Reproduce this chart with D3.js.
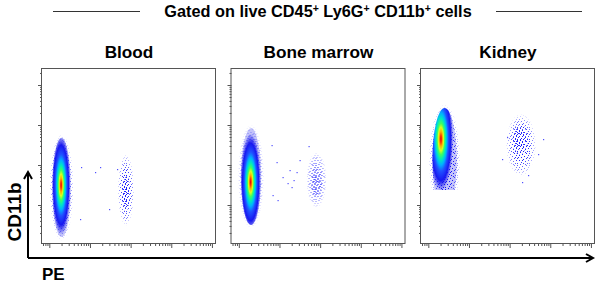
<!DOCTYPE html>
<html>
<head>
<meta charset="utf-8">
<script src="https://cdn.jsdelivr.net/npm/d3@7"></script>
<style>
  body { margin: 0; background: #fff; }
  svg { display: block; font-family: "Liberation Sans", Arial, sans-serif; }
</style>
</head>
<body>
<div id="chart"></div>
<script>
(function() {
  // ---- data (log10 fluorescence units) ----
  var tissues = ["Blood", "Bone marrow", "Kidney"];

  // PE- Ly6G+ CD11b+ neutrophils: centre, half spread, densest point
  var negX = [1.30, 1.30, 1.40];
  var negY = [2.44, 2.71, 3.125];
  var negHalfX = [0.23, 0.25, 0.30];
  var negHalfY = [1.24, 1.21, 1.30];
  var negPeakX = [1.29, 1.29, 1.31];
  var negPeakY = [2.50, 2.575, 3.65];
  var negGateY = [null, null, 2.375]; // lower gate edge (kidney)

  // PE+ events: centre, half spread, densest point
  var posX = [2.885, 2.91, 3.28];
  var posY = [2.375, 2.625, 3.50];
  var posHalfX = [0.20, 0.25, 0.37];
  var posHalfY = [0.90, 0.70, 0.78];
  var posPeakX = [2.885, 2.91, 3.25];
  var posPeakY = [2.30, 2.55, 3.65];

  // single scattered events [PE, CD11b]
  var strays = [
    [[1.78, 2.95], [2.12, 2.83], [2.25, 2.95], [1.75, 1.65], [2.47, 1.90], [2.66, 2.90]],
    [[1.80, 3.50], [1.93, 3.08], [2.07, 2.70], [2.25, 2.88], [2.30, 2.45], [2.42, 2.83],
     [2.49, 3.13], [1.83, 2.25], [1.95, 2.13], [2.71, 3.48], [2.34, 2.63], [2.20, 2.55]],
    [[2.81, 3.15], [2.93, 3.70], [3.82, 3.65], [3.70, 3.28], [3.45, 2.75], [3.30, 2.58]]
  ];

  var xMajor = [1, 2, 3, 4, 5];
  var yMajor = [2, 3, 4, 5];

  // ---- layout ----
  var W = 600, H = 285, panelW = 174, panelH = 175, top = 69;
  var jet = [
    [0, "#e80000", 1], [0.07, "#ff3c00", 1], [0.14, "#ffb000", 1], [0.22, "#d8ff20", 1],
    [0.30, "#40ff60", 1], [0.40, "#00e8c0", 1], [0.50, "#00b0ff", 1], [0.62, "#2050ff", 1],
    [0.80, "#1818f0", 1], [1, "#1010e8", 0.25]
  ];
  // irregular dot layout for the speckle texture (12px tile)
  var speckDots = [[0,0],[5,1],[9,0],[2,2],[7,3],[11,2],[4,4],[0,5],[9,5],[6,6],[2,7],
                   [11,7],[8,8],[4,9],[0,10],[6,10],[10,10],[3,11],[8,11],[1,4],[10,4],[5,7]];

  var svg = d3.select("#chart").append("svg").attr("width", W).attr("height", H);
  var defs = svg.append("defs");

  var x = d3.scaleLinear().domain([0.82, 5.1]).range([0, panelW]);
  var y = d3.scaleLinear().domain([1.025, 5.4]).range([panelH, 0]);
  var panel = d3.scaleLinear().domain([0, 2]).range([42, 421]);

  [["speck", 0, 0], ["speckB", 6, 5]].forEach(function(p) {
    var pat = defs.append("pattern").attr("id", p[0])
      .attr("patternUnits", "userSpaceOnUse").attr("width", 12).attr("height", 12)
      .attr("patternTransform", "translate(" + p[1] + "," + p[2] + ")");
    pat.selectAll("rect").data(speckDots).enter().append("rect")
      .attr("x", function(d) { return d[0]; }).attr("y", function(d) { return d[1]; })
      .attr("width", 1).attr("height", 1).attr("fill", "#1a1aff");
  });

  var fades = [["fadeHalo", [[0, "#fff"], [0.6, "#fff"], [1, "#000"]]],
               ["fadeSparse", [[0, "#fff"], [0.5, "#eee"], [0.8, "#888"], [1, "#000"]]]];
  fades.forEach(function(f) {
    var gr = defs.append("radialGradient").attr("id", "g" + f[0]);
    gr.selectAll("stop").data(f[1]).enter().append("stop")
      .attr("offset", function(d) { return d[0]; }).attr("stop-color", function(d) { return d[1]; });
    defs.append("mask").attr("id", f[0]).attr("maskContentUnits", "objectBoundingBox")
      .append("rect").attr("width", 1).attr("height", 1).attr("fill", "url(#g" + f[0] + ")");
  });

  var minors = [];
  d3.range(0, 6).forEach(function(d) {
    d3.range(2, 10).forEach(function(k) { minors.push(d + Math.log10(k)); });
  });
  var xMinor = minors.filter(function(v) { return v > x.domain()[0] && v < x.domain()[1]; });
  var yMinor = minors.filter(function(v) { return v > y.domain()[0] && v < y.domain()[1]; });

  tissues.forEach(function(name, i) {
    var g = svg.append("g").attr("transform", "translate(" + panel(i) + "," + top + ")");

    g.append("text").attr("x", panelW / 2).attr("y", -11.5).attr("text-anchor", "middle")
      .attr("font-size", 17.2).attr("font-weight", "bold").text(name);

    // ticks
    [[xMajor, 4], [xMinor, 2]].forEach(function(t) {
      g.append("g").attr("transform", "translate(0," + panelH + ")")
        .call(d3.axisBottom(x).tickValues(t[0]).tickSize(t[1]).tickFormat(""))
        .call(function(a) { a.select(".domain").remove(); a.attr("color", "#555"); });
    });
    [[yMajor, 4], [yMinor, 2]].forEach(function(t) {
      g.append("g")
        .call(d3.axisLeft(y).tickValues(t[0]).tickSize(t[1]).tickFormat(""))
        .call(function(a) { a.select(".domain").remove(); a.attr("color", "#555"); });
    });

    var plot = g.append("g");
    if (negGateY[i] !== null) {
      defs.append("clipPath").attr("id", "gate" + i).append("rect")
        .attr("x", 0).attr("y", 0).attr("width", panelW).attr("height", y(negGateY[i]));
      plot.attr("clip-path", "url(#gate" + i + ")");
    }

    // PE- population: speckled halo + density gradient
    var cx = x(negX[i]), cy = y(negY[i]);
    var rx = x(negX[i] + negHalfX[i]) - cx, ry = cy - y(negY[i] + negHalfY[i]);
    plot.append("ellipse").attr("cx", cx).attr("cy", cy)
      .attr("rx", rx * 1.3).attr("ry", ry * 1.08)
      .attr("fill", "url(#speck)").attr("mask", "url(#fadeHalo)");

    var grad = defs.append("radialGradient").attr("id", "jet" + i)
      .attr("cx", (x(negPeakX[i]) - (cx - rx)) / (2 * rx))
      .attr("cy", (y(negPeakY[i]) - (cy - ry)) / (2 * ry))
      .attr("r", 0.5);
    grad.selectAll("stop").data(jet).enter().append("stop")
      .attr("offset", function(d) { return d[0]; })
      .attr("stop-color", function(d) { return d[1]; })
      .attr("stop-opacity", function(d) { return d[2]; });
    plot.append("ellipse").attr("cx", cx).attr("cy", cy).attr("rx", rx).attr("ry", ry)
      .attr("fill", "url(#jet" + i + ")");

    // PE+ population: sparse speckle, doubled around its densest point
    var px = x(posX[i]), py = y(posY[i]);
    var prx = x(posX[i] + posHalfX[i]) - px, pry = py - y(posY[i] + posHalfY[i]);
    g.append("ellipse").attr("cx", px).attr("cy", py).attr("rx", prx).attr("ry", pry)
      .attr("fill", "url(#speck)").attr("mask", "url(#fadeSparse)");
    g.append("ellipse").attr("cx", x(posPeakX[i])).attr("cy", y(posPeakY[i]))
      .attr("rx", prx * 0.6).attr("ry", pry * 0.55)
      .attr("fill", "url(#speckB)").attr("mask", "url(#fadeSparse)");

    g.selectAll("rect.ev").data(strays[i]).enter().append("rect").attr("class", "ev")
      .attr("x", function(d) { return Math.round(x(d[0])); })
      .attr("y", function(d) { return Math.round(y(d[1])); })
      .attr("width", 1.2).attr("height", 1.2).attr("fill", "#5050ff");

    g.append("rect").attr("x", -0.5).attr("y", -0.5).attr("width", panelW).attr("height", panelH)
      .attr("fill", "none").attr("stroke", "#555").attr("stroke-width", 1);
  });

  // ---- header ----
  var title = svg.append("text").attr("x", 318).attr("y", 17).attr("text-anchor", "middle")
    .attr("font-size", 16.3).attr("font-weight", "bold");
  var parts = ["Gated on live CD45", "+", " Ly6G", "+", " CD11b", "+", " cells"];
  parts.forEach(function(p, k) {
    var sup = p === "+";
    title.append("tspan").attr("font-size", sup ? 10.5 : 16.3)
      .attr("dy", sup ? -5.5 : (k > 0 ? 5.5 : 0)).text(p);
  });
  svg.append("line").attr("x1", 53).attr("x2", 140).attr("y1", 11.5).attr("y2", 11.5)
    .attr("stroke", "#333");
  svg.append("line").attr("x1", 496).attr("x2", 582).attr("y1", 11.5).attr("y2", 11.5)
    .attr("stroke", "#333");

  // ---- outer axes ----
  svg.append("path").attr("d", "M28,258V173M28,258H592").attr("fill", "none")
    .attr("stroke", "#000").attr("stroke-width", 2);
  svg.append("path").attr("d", "M24,179L28,172L32,179M586,254L593,258L586,262")
    .attr("fill", "none").attr("stroke", "#000").attr("stroke-width", 2);
  svg.append("text").attr("transform", "translate(21,212) rotate(-90)")
    .attr("text-anchor", "middle").attr("font-size", 19).attr("font-weight", "bold").text("CD11b");
  svg.append("text").attr("x", 42).attr("y", 280)
    .attr("font-size", 17).attr("font-weight", "bold").text("PE");
}).call(this);
</script>
</body>
</html>
